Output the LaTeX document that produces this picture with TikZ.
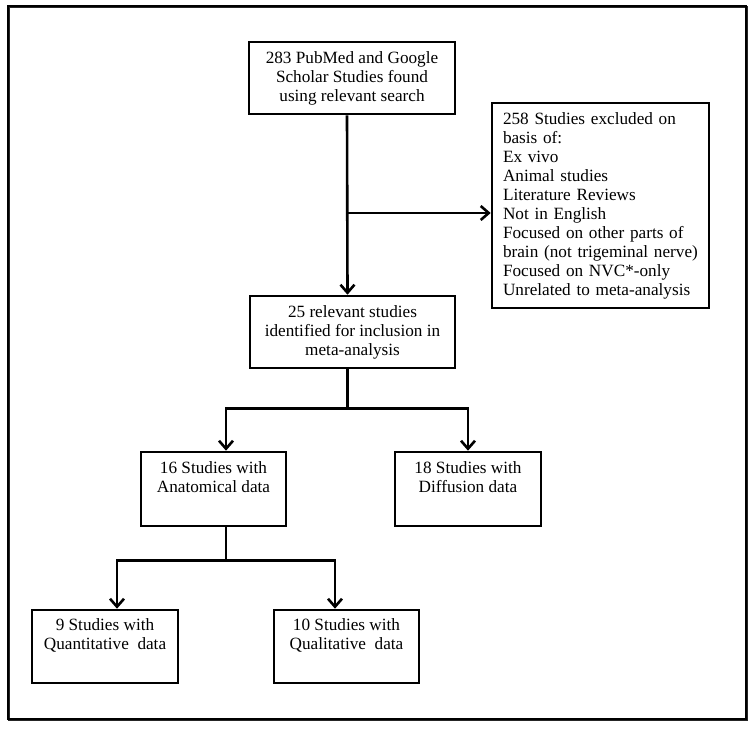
\documentclass[tikz,border=0pt]{standalone}
\usepackage{fontspec}
\setmainfont{Liberation Serif}
\usetikzlibrary{
  arrows.meta,
  positioning,
  calc
}
\tikzset{
  box/.style={
    draw,
    line width=2.6pt,
    inner sep=6pt,
    align=center,
    font=\fontsize{17.2}{19}\selectfont
  }
}
\tikzset{
  flow/.style={
    -{Straight Barb[length=8pt,width=14pt]},
    line width=2.6pt
  }
}

\begin{document}
\begin{tikzpicture}[x=1pt, y=-1pt]
    \useasboundingbox (0,0) rectangle (754,730);
    \draw[line width=2.6pt, black!85] (9,7) rectangle (747,720);
    \draw[line width=2.6pt] (8,6) rectangle (746,719);

    \node[box, minimum width=206, minimum height=72] (found) at (352,78)
      {283 PubMed and Google\\Scholar Studies found\\using relevant search};
    \node[box, minimum width=217, minimum height=205, text width=195,
      align=left, inner sep=9pt] (excl) at (600.5,205.5)
      {258 Studies excluded on\\basis of:\\Ex vivo\\Animal studies\\
       Literature Reviews\\Not in English\\Focused on other parts of\\
       brain (not trigeminal nerve)\\Focused on NVC*-only\\
       Unrelated to meta-analysis};
    \node[box, minimum width=205, minimum height=72] (incl) at (352.5,332)
      {25 relevant studies\\identified for inclusion in\\meta-analysis};
    \node[box, minimum width=145, minimum height=74] (anat) at (213.5,489)
      {16 Studies with\\Anatomical data\\\strut};
    \node[box, minimum width=146, minimum height=74] (diff) at (468,489)
      {18 Studies with\\Diffusion data\\\strut};
    \node[box, minimum width=146, minimum height=73] (quant) at (105,646.5)
      {9 Studies with\\Quantitative~ data\\\strut};
    \node[box, minimum width=145, minimum height=73] (qual) at (346.5,646.5)
      {10 Studies with\\Qualitative~ data\\\strut};

    \draw[flow] ([xshift=-5pt]found.south) -- ([xshift=-5pt]incl.north);
    \draw[flow] ([xshift=-5pt]found.south |- 0,213) -- (excl.west |- 0,213);

    \draw[line width=2.6pt] ([xshift=-5pt]incl.south) -- ++(0,39) coordinate (fork1);
    \foreach \dst/\dx in {anat/12.5, diff/0}{
      \draw[flow] (fork1) -| ([xshift=\dx pt]\dst.north);
    }

    \draw[line width=2.6pt] ([xshift=12.5pt]anat.south) -- ++(0,33) coordinate (fork2);
    \foreach \dst/\dx in {quant/12, qual/-11.5}{
      \draw[flow] (fork2) -| ([xshift=\dx pt]\dst.north);
    }
  \end{tikzpicture}
\end{document}
